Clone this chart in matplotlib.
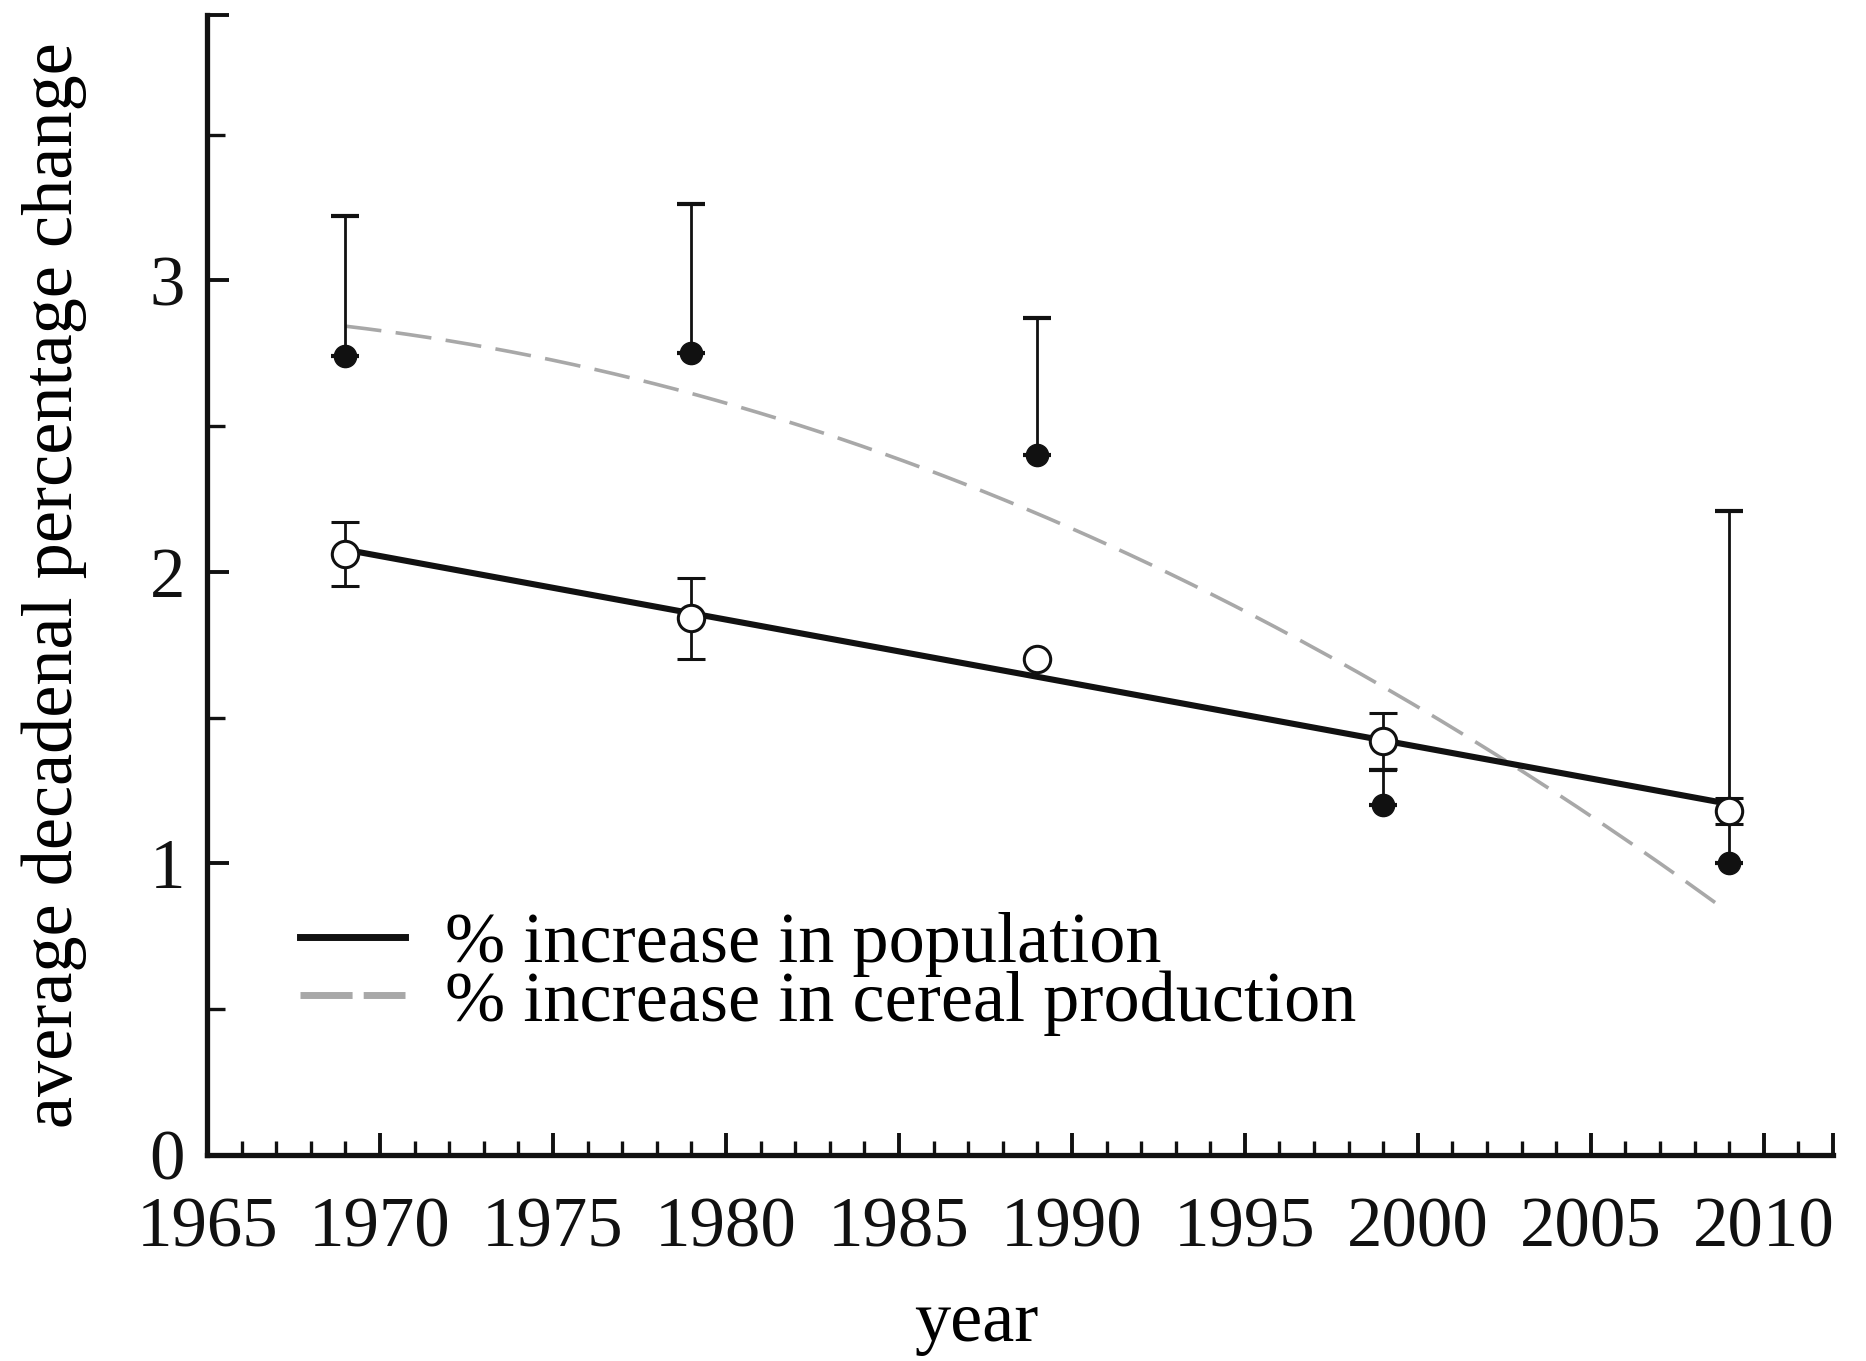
import numpy as np
import matplotlib.pyplot as plt

plt.rcParams['font.family'] = ['Liberation Serif', 'DejaVu Serif']

# decade mid-points
years = [1969, 1979, 1989, 1999, 2009]

# % increase in population (open circles), symmetric error
pop = [2.06, 1.84, 1.70, 1.42, 1.18]
pop_err = [0.11, 0.14, 0.0, 0.095, 0.045]

# % increase in cereal production (filled circles), upper error only
cereal = [2.74, 2.75, 2.40, 1.20, 1.00]
cereal_err_up = [0.48, 0.51, 0.47, 0.12, 1.21]

xticks = [1965, 1970, 1975, 1980, 1985, 1990, 1995, 2000, 2005, 2010]
yticks = [0, 1, 2, 3]

fig = plt.figure(figsize=(18.66, 13.61), dpi=100)
ax = fig.add_axes([0.111, 0.1514, 0.8713, 0.8376])

# fitted trends
xs = np.linspace(years[0], years[-1], 200)
p_pop = np.polyfit(years, pop, 1)
p_cer = np.polyfit(years, cereal, 2)
xs_c = np.linspace(years[0], years[-1] - 0.4, 200)
ax.plot(xs, np.polyval(p_pop, xs), color='#111111', lw=4.4, zorder=2)
ax.plot(xs_c, np.polyval(p_cer, xs_c), color='#a8a8a8', lw=2.6,
        dashes=(10, 4), zorder=1)

# error bars
ax.errorbar(years, cereal, yerr=[np.zeros(5), cereal_err_up], fmt='o',
            color='#111111', ms=16, elinewidth=2.0, capsize=10, capthick=3,
            zorder=3)
ax.errorbar(years, pop, yerr=pop_err, fmt='o', color='#111111', mfc='white',
            mec='#111111', mew=2.2, ms=19, elinewidth=2.0, capsize=10,
            capthick=3, zorder=4)

ax.set_xlim(1965, 2012)
ax.set_ylim(0, 3.91)

ax.set_xticks(xticks + [2012], [str(t) for t in xticks] + [''])
ax.set_xticks([y for y in range(1966, 2012) if y % 5 != 0], minor=True)
ax.set_yticks(yticks + [3.91], [str(t) for t in yticks] + [''])
ax.set_yticks([0.5, 1.5, 2.5, 3.5], minor=True)

ax.tick_params(which='major', direction='in', length=16, width=2.8,
               labelsize=51, colors='#111111')
ax.tick_params(which='minor', direction='in', length=10, width=2.4,
               colors='#111111')
ax.tick_params(axis='y', which='minor', length=13)
ax.tick_params(axis='x', pad=30)
ax.tick_params(axis='y', pad=16)

for s in ['top', 'right']:
    ax.spines[s].set_visible(False)
for s in ['left', 'bottom']:
    ax.spines[s].set_linewidth(3.8)
    ax.spines[s].set_color('#111111')

ax.set_ylabel('average decadenal percentage change', fontsize=52)
ax.yaxis.set_label_coords(-0.074, 0.5)
ax.set_xlabel('year', fontsize=52)
ax.xaxis.label.set_va('baseline')
ax.xaxis.set_label_coords(0.473, -0.163)

leg_handles = [
    plt.Line2D([], [], color='#111111', lw=5),
    plt.Line2D([], [], color='#a8a8a8', lw=5, dashes=(7.5, 1.6)),
]
ax.legend(leg_handles, ['% increase in population',
                        '% increase in cereal production'],
          loc='upper left', bbox_to_anchor=(0.035, 0.245), frameon=False,
          fontsize=52, handlelength=1.45, handletextpad=0.55,
          labelspacing=-0.1, borderpad=0)

fig.savefig('out.png', dpi=100)
